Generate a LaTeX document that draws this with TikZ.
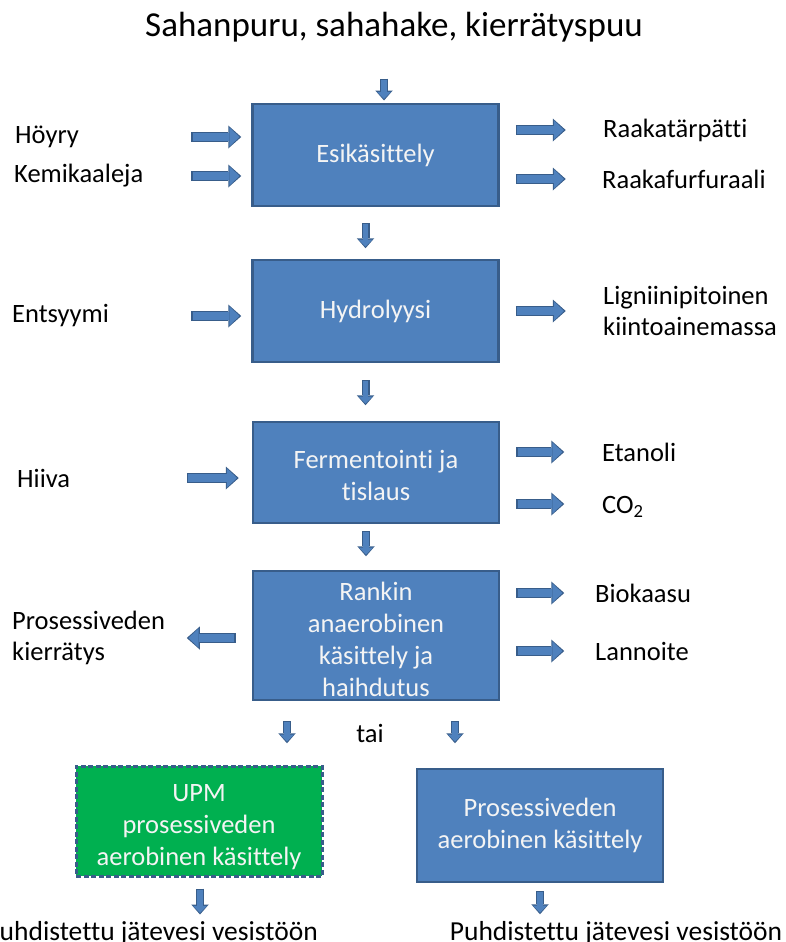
\documentclass[tikz,border=0pt]{standalone}
\usepackage{fontspec}
\setmainfont{Carlito}[Ligatures=NoCommon]
\usetikzlibrary{positioning, arrows.meta}

\definecolor{boxblue}{HTML}{4F81BD}
\definecolor{boxedge}{HTML}{385D8A}
\definecolor{upmgreen}{HTML}{00B050}
\definecolor{boxtext}{HTML}{F4F4F4}

\tikzset{
  stage/.style={draw=boxedge, line width=2.5pt, fill=boxblue, text=boxtext,
    minimum width=246pt, inner sep=2pt, align=center,
    font=\fontsize{26.5}{32}\selectfont},
  upmstage/.style={stage, fill=upmgreen, line width=3pt, dash pattern=on 5pt off 2.5pt},
  sidetext/.style={anchor=west, align=left, inner sep=0pt,
    font=\fontsize{26.5}{31}\selectfont},
  outtext/.style={inner sep=0pt, font=\fontsize{27.5}{32}\selectfont},
  sidearrow/.style={draw=boxblue, line width=8pt, shorten <=1.3pt, shorten >=1.8pt,
    -{Triangle[length=10pt,width=19pt,line width=0pt]},
    preaction={draw=boxedge, line width=10.5pt, shorten <=0pt, shorten >=0pt,
      -{Triangle[length=13pt,width=23pt,line width=0pt]}}},
  downarrow/.style={draw=boxblue, line width=5.5pt, shorten <=1.2pt, shorten >=1.6pt,
    -{Triangle[length=7pt,width=14pt,line width=0pt]},
    preaction={draw=boxedge, line width=8pt, shorten <=0pt, shorten >=0pt,
      -{Triangle[length=10pt,width=17.5pt,line width=0pt]}}}
}

\begin{document}
\begin{tikzpicture}[x=1pt, y=-1pt]
  \useasboundingbox (0,0) rectangle (786,942);

  % main column
  \node[font=\fontsize{35}{42}\selectfont] (title) at (394,27) {Sahanpuru, sahahake, kierrätyspuu};
  \node[stage, minimum height=102pt] (esi) at (375.5,155) {Esikäsittely};
  \node[stage, minimum height=102pt] (hydro) at (375.5,311) {Hydrolyysi};
  \node[stage, minimum height=101pt] (ferm) at (376,472.5) {\rule{0pt}{24pt}Fermentointi ja\\tislaus};
  \node[stage, minimum height=129pt, inner ysep=0pt] (rankin) at (376,635.5) {\rule{0pt}{27pt}Rankin\\anaerobinen\\käsittely ja\\haihdutus};
  \node[upmstage, minimum height=110pt] (upm) at (199,821) {\rule{0pt}{29pt}UPM\\prosessiveden\\aerobinen käsittely};
  \node[stage, minimum height=113pt] (aero) at (540,825.5) {Prosessiveden\\aerobinen käsittely};

  % inputs and outputs
  \node[sidetext] (hoyry) at (15,137) {Höyry};
  \node[sidetext] (kemi) at (14,176) {Kemikaaleja};
  \node[sidetext] (entsyymi) at (12,316) {Entsyymi};
  \node[sidetext] (hiiva) at (17,478) {Hiiva};
  \node[sidetext] (kierto) at (12,638) {Prosessiveden\\kierrätys};
  \node[sidetext] (tarpatti) at (603,130) {Raakatärpätti};
  \node[sidetext] (furfuraali) at (602,179) {Raakafurfuraali};
  \node[sidetext] (ligniini) at (603,311) {Ligniinipitoinen\\kiintoainemassa};
  \node[sidetext] (etanoli) at (602,452) {Etanoli};
  \node[sidetext] (co2) at (602,507) {CO\textsubscript{2}};
  \node[sidetext] (biokaasu) at (595,593) {Biokaasu};
  \node[sidetext] (lannoite) at (595,651) {Lannoite};
  \node[font=\fontsize{26.5}{31}\selectfont] (tai) at (370,733) {tai};
  \node[outtext, anchor=base east] (outleft) at (318,940) {Puhdistettu jätevesi vesistöön};
  \node[outtext, anchor=base] (outright) at (616,940) {Puhdistettu jätevesi vesistöön};

  % block arrows
  \draw[downarrow] ([xshift=-10pt,yshift=-33pt]title.south) -- ++(0,22);
  \draw[downarrow] ([xshift=-10pt,yshift=-16pt]esi.south) -- ++(0,25);
  \draw[downarrow] ([xshift=-10pt,yshift=-17pt]hydro.south) -- ++(0,25);
  \draw[downarrow] ([xshift=-10pt,yshift=-7pt]ferm.south) -- ++(0,25);
  \draw[downarrow] ([xshift=-89pt,yshift=-20pt]rankin.south) -- ++(0,22);
  \draw[downarrow] ([xshift=79pt,yshift=-20pt]rankin.south) -- ++(0,22);
  \draw[downarrow] ([xshift=1pt,yshift=-11pt]upm.south) -- ++(0,26);
  \draw[downarrow] ([yshift=-8pt]aero.south) -- ++(0,23);

  \draw[sidearrow] ([xshift=-60pt]esi.west |- hoyry) -- ++(50,0);
  \draw[sidearrow] ([xshift=-60pt]esi.west |- kemi) -- ++(50,0);
  \draw[sidearrow] ([xshift=-60pt]hydro.west |- entsyymi) -- ++(50,0);
  \draw[sidearrow] ([xshift=-65pt]ferm.west |- hiiva) -- ++(52,0);
  \draw[sidearrow] ([xshift=-16pt]rankin.west |- kierto) -- ++(-49,0);
  \draw[sidearrow] ([xshift=16pt]esi.east |- tarpatti) -- ++(50,0);
  \draw[sidearrow] ([xshift=16pt]esi.east |- furfuraali) -- ++(50,0);
  \draw[sidearrow] ([xshift=16pt]hydro.east |- ligniini) -- ++(50,0);
  \draw[sidearrow] ([xshift=16pt]ferm.east |- etanoli) -- ++(48,0);
  \draw[sidearrow] ([xshift=16pt,yshift=3pt]ferm.east |- co2) -- ++(48,0);
  \draw[sidearrow] ([xshift=16pt]rankin.east |- biokaasu) -- ++(48,0);
  \draw[sidearrow] ([xshift=16pt]rankin.east |- lannoite) -- ++(48,0);
\end{tikzpicture}
\end{document}
